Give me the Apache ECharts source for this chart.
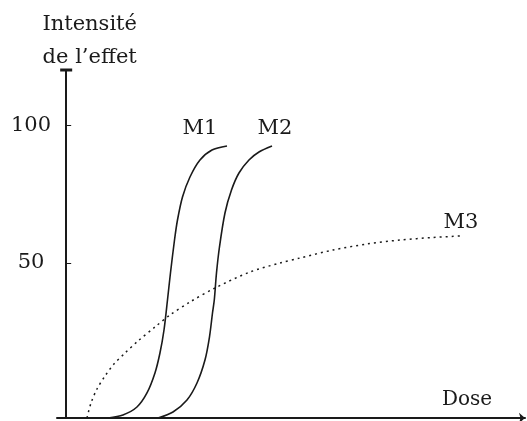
<!DOCTYPE html>
<html>
<head>
<meta charset="utf-8">
<script src="https://cdn.jsdelivr.net/npm/echarts@6/dist/echarts.min.js"></script>
<style>
html,body{margin:0;padding:0;background:#fff;}
#chart{width:527px;height:421px;}
</style>
</head>
<body>
<div id="chart"></div>
<script>
// Dose (arbitrary units) vs intensity of the effect
const m1Dose = [9.11, 12.38, 15.43, 17.61, 19.35, 20.44, 21.32, 22.08, 22.73, 23.61, 24.26, 25.35, 26.98, 29.16, 31.78, 35.05];
const m1Effect = [-6.2, -5.11, -2.21, 2.87, 10.12, 17.37, 25.71, 36.59, 46.38, 58.35, 65.6, 73.95, 81.2, 87.36, 90.99, 92.44];

const m2Dose = [20.01, 23.28, 26.33, 28.51, 30.25, 31.23, 31.89, 32.28, 32.76, 33.41, 34.61, 36.03, 37.66, 39.84, 42.02, 44.86];
const m2Effect = [-6.2, -4.02, 0.33, 6.49, 14.83, 23.17, 31.88, 36.59, 46.38, 55.81, 68.14, 76.48, 82.65, 87.36, 90.26, 92.44];

const m3Dose = [4.53, 5.41, 6.71, 8.46, 10.42, 12.82, 15.65, 19.35, 22.62, 26.98, 32.43, 40.06, 46.6, 50.96, 58.15, 65.56, 72.75, 79.95, 85.83];
const m3Effect = [-6.2, -0.76, 4.32, 9.03, 13.38, 17.37, 21.72, 26.8, 31.15, 35.87, 40.94, 46.75, 50.01, 51.82, 54.73, 56.9, 58.35, 59.26, 59.8];

const seriesNames = ['M1', 'M2', 'M3'];
const yTickValues = [50, 100];
const yAxisName = 'Intensité\nde l\u2019effet';
const xAxisName = 'Dose';

const FONT = 'DejaVu Serif';
const INK = '#1a1a1a';

function pairs(xs, ys) {
  return xs.map((x, i) => [x, ys[i]]);
}

function endLabel(name, offset) {
  return {
    show: true,
    formatter: name,
    distance: 0,
    align: 'center',
    verticalAlign: 'middle',
    offset: offset,
    fontFamily: FONT,
    fontSize: 21,
    color: INK
  };
}

const chart = echarts.init(document.getElementById('chart'), null, {renderer: 'canvas'});
chart.setOption({
  animation: false,
  backgroundColor: '#fff',
  grid: {left: 57, right: 2, top: 70, bottom: 3, containLabel: false, outerBoundsMode: 'none'},
  xAxis: {
    type: 'value',
    min: -2,
    max: 100,
    name: xAxisName,
    nameLocation: 'end',
    nameGap: -83,
    nameTextStyle: {
      fontFamily: FONT, fontSize: 20, color: INK,
      verticalAlign: 'bottom', padding: [0, 0, 8, 0]
    },
    axisLine: {
      onZero: false,
      symbol: ['none', 'arrow'],
      symbolSize: [8, 6],
      lineStyle: {color: INK, width: 2}
    },
    axisTick: {show: false},
    axisLabel: {show: false},
    splitLine: {show: false}
  },
  yAxis: {
    type: 'value',
    min: -6.2,
    max: 120,
    name: yAxisName,
    nameLocation: 'end',
    nameGap: -4,
    nameTextStyle: {
      fontFamily: FONT, fontSize: 21, color: INK, lineHeight: 33,
      align: 'center', verticalAlign: 'bottom', padding: [0, 0, 0, 47]
    },
    axisLine: {
      show: true,
      onZero: true,
      symbol: ['none', 'rect'],
      symbolSize: [12, 3],
      lineStyle: {color: INK, width: 2}
    },
    axisTick: {
      show: true,
      inside: true,
      length: 5,
      customValues: yTickValues,
      lineStyle: {color: INK, width: 1}
    },
    axisLabel: {
      show: true,
      customValues: yTickValues,
      align: 'center',
      margin: 26,
      fontFamily: FONT,
      fontSize: 21,
      color: INK
    },
    splitLine: {show: false}
  },
  series: [
    {
      name: seriesNames[0], type: 'line', smooth: 0.3, symbol: 'none',
      lineStyle: {color: INK, width: 1.6},
      endLabel: endLabel(seriesNames[0], [-27, -17]),
      data: pairs(m1Dose, m1Effect)
    },
    {
      name: seriesNames[1], type: 'line', smooth: 0.3, symbol: 'none',
      lineStyle: {color: INK, width: 1.6},
      endLabel: endLabel(seriesNames[1], [3, -17]),
      data: pairs(m2Dose, m2Effect)
    },
    {
      name: seriesNames[2], type: 'line', smooth: 0.3, symbol: 'none',
      lineStyle: {color: INK, width: 1.5, type: [2, 4]},
      endLabel: endLabel(seriesNames[2], [1, -13]),
      data: pairs(m3Dose, m3Effect)
    }
  ]
});
</script>
</body>
</html>
